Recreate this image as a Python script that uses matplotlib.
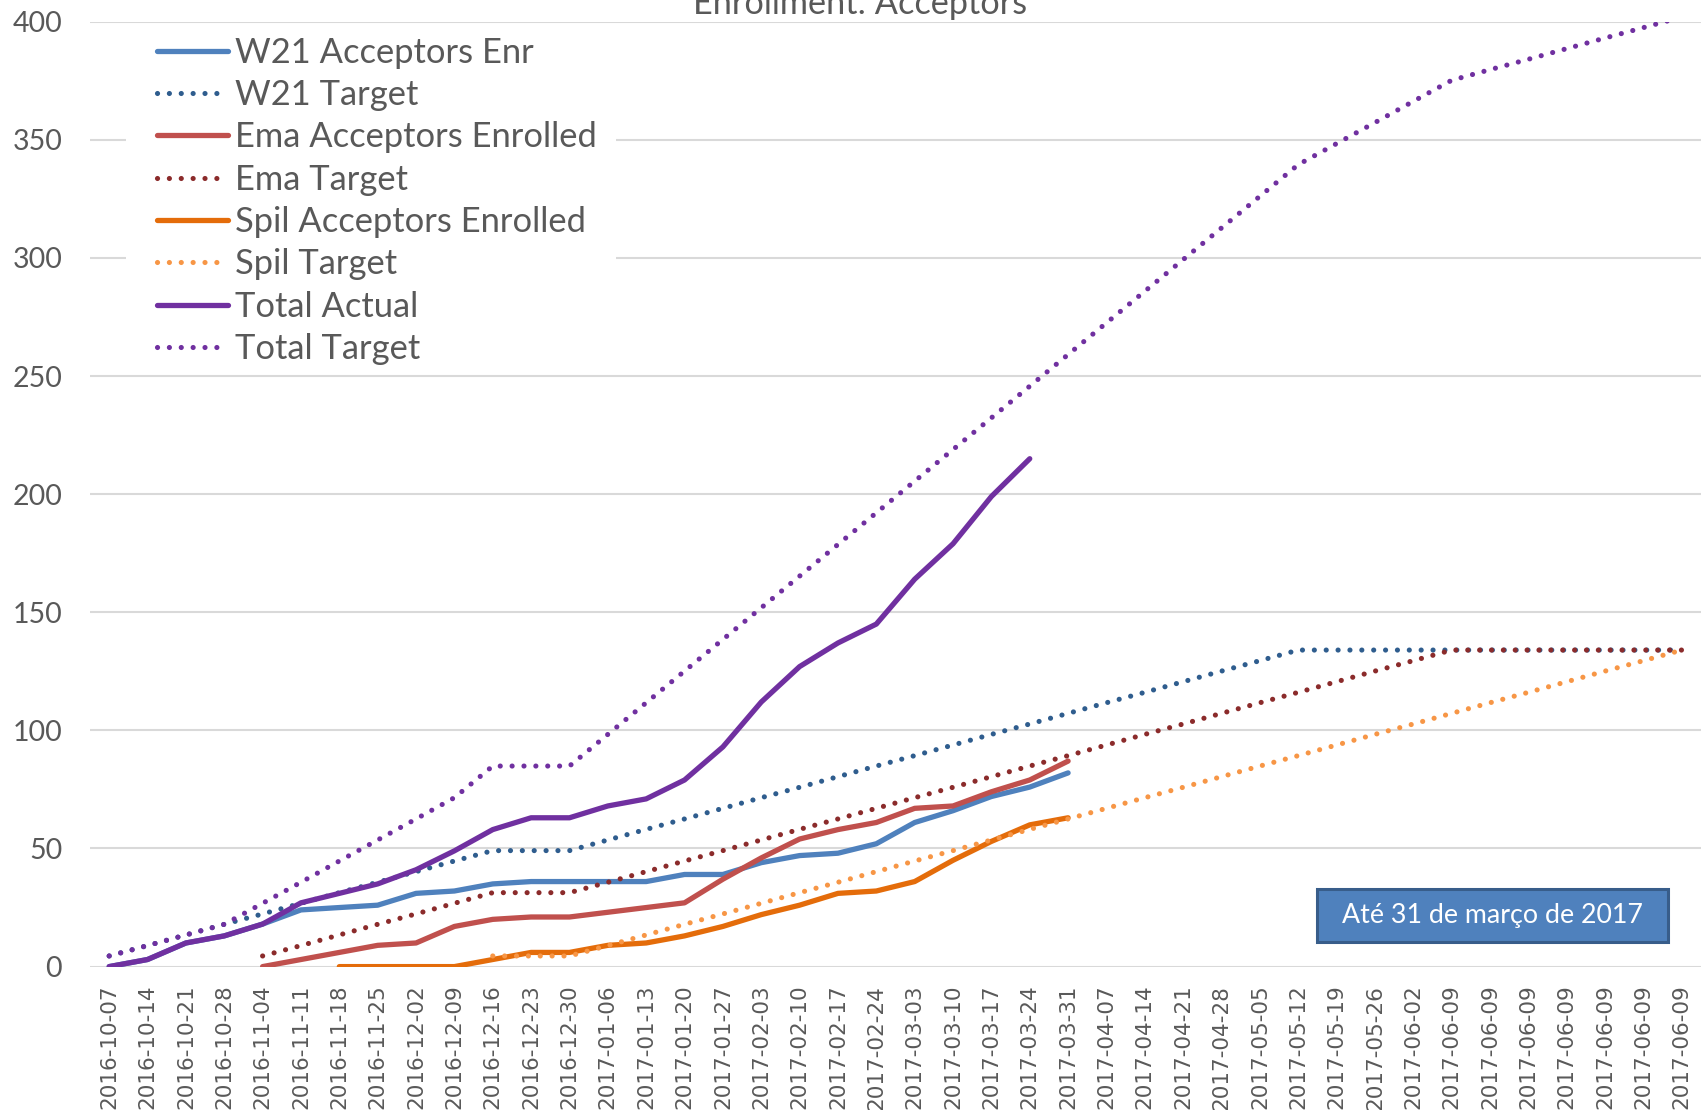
import numpy as np
import matplotlib
matplotlib.use("Agg")
import matplotlib.pyplot as plt
from matplotlib.patches import Rectangle

plt.rcParams['font.family'] = ['Lato', 'DejaVu Sans']

weeks = ["2016-10-07", "2016-10-14", "2016-10-21", "2016-10-28", "2016-11-04", "2016-11-11",
         "2016-11-18", "2016-11-25", "2016-12-02", "2016-12-09", "2016-12-16", "2016-12-23",
         "2016-12-30", "2017-01-06", "2017-01-13", "2017-01-20", "2017-01-27", "2017-02-03",
         "2017-02-10", "2017-02-17", "2017-02-24", "2017-03-03", "2017-03-10", "2017-03-17",
         "2017-03-24", "2017-03-31", "2017-04-07", "2017-04-14", "2017-04-21", "2017-04-28",
         "2017-05-05", "2017-05-12", "2017-05-19", "2017-05-26", "2017-06-02", "2017-06-09",
         "2017-06-09", "2017-06-09", "2017-06-09", "2017-06-09", "2017-06-09", "2017-06-09"]

# actual enrolment (each list starts at the week given in *_start)
w21_start = 0
w21_enr = [0, 3, 10, 13, 18, 24, 25, 26, 31, 32, 35, 36, 36, 36, 36, 39, 39, 44, 47, 48,
           52, 61, 66, 72, 76, 82]
ema_start = 4
ema_enr = [0, 3, 6, 9, 10, 17, 20, 21, 21, 23, 25, 27, 37, 46, 54, 58, 61, 67, 68, 74, 79, 87]
spil_start = 6
spil_enr = [0, 0, 0, 0, 3, 6, 6, 9, 10, 13, 17, 22, 26, 31, 32, 36, 45, 53, 60, 63]
total_start = 0
total_act = [0, 3, 10, 13, 18, 27, 31, 35, 41, 49, 58, 63, 63, 68, 71, 79, 93, 112, 127, 137,
             145, 164, 179, 199, 215]

# targets
w21_tgt_start = 0
w21_tgt = [4.5, 8.9, 13.4, 17.9, 22.3, 26.8, 31.3, 35.7, 40.2, 44.7, 49.1, 49.1, 49.1, 53.6,
           58.1, 62.5, 67.0, 71.5, 75.9, 80.4, 84.9, 89.3, 93.8, 98.3, 102.7, 107.2, 111.7,
           116.1, 120.6, 125.1, 129.5, 134.0, 134, 134, 134, 134, 134, 134, 134, 134, 134, 134]
ema_tgt_start = 4
ema_tgt = [4.5, 8.9, 13.4, 17.9, 22.3, 26.8, 31.3, 31.3, 31.3, 35.7, 40.2, 44.7, 49.1, 53.6,
           58.1, 62.5, 67.0, 71.5, 75.9, 80.4, 84.9, 89.3, 93.8, 98.3, 102.7, 107.2, 111.7,
           116.1, 120.6, 125.1, 129.5, 134.0, 134, 134, 134, 134, 134, 134]
spil_tgt_start = 10
spil_tgt = [4.5, 4.5, 4.5, 8.9, 13.4, 17.9, 22.3, 26.8, 31.3, 35.7, 40.2, 44.7, 49.1, 53.6,
            58.1, 62.5, 67.0, 71.5, 75.9, 80.4, 84.9, 89.3, 93.8, 98.3, 102.7, 107.2, 111.7,
            116.1, 120.6, 125.1, 129.5, 134.0]
total_tgt_start = 0
total_tgt = [4.5, 8.9, 13.4, 17.9, 26.8, 35.7, 44.7, 53.6, 62.5, 71.5, 84.9, 84.9, 84.9, 98.3,
             111.7, 125.1, 138.5, 151.9, 165.3, 178.7, 192.1, 205.5, 218.9, 232.3, 245.7,
             259.1, 272.5, 285.9, 299.3, 312.7, 326.1, 339.5, 348.4, 357.3, 366.3, 375.2,
             379.7, 384.1, 388.6, 393.1, 397.5, 402.0]


def pad(start, vals):
    arr = np.full(len(weeks), np.nan)
    arr[start:start + len(vals)] = vals
    return arr


series = [
    ("W21 Acceptors Enr", pad(w21_start, w21_enr), "#4F81BD", "solid"),
    ("W21 Target", pad(w21_tgt_start, w21_tgt), "#2F5D8E", "dot"),
    ("Ema Acceptors Enrolled", pad(ema_start, ema_enr), "#C0504D", "solid"),
    ("Ema Target", pad(ema_tgt_start, ema_tgt), "#8B2B2B", "dot"),
    ("Spil Acceptors Enrolled", pad(spil_start, spil_enr), "#E46C0A", "solid"),
    ("Spil Target", pad(spil_tgt_start, spil_tgt), "#F79646", "dot"),
    ("Total Actual", pad(total_start, total_act), "#7030A0", "solid"),
    ("Total Target", pad(total_tgt_start, total_tgt), "#7030A0", "dot"),
]

fig = plt.figure(figsize=(17.01, 11.10), dpi=100)
ax = fig.add_axes([90 / 1701, 143.4 / 1110, 1611 / 1701, 944.9 / 1110])

x = np.arange(len(weeks))
for name, vals, color, style in series:
    if style == "solid":
        ax.plot(x, vals, color=color, lw=3.8, label=name, solid_capstyle="round",
                solid_joinstyle="round", zorder=3)
    else:
        ax.plot(x, vals, color=color, lw=3.7, label=name, linestyle=(0, (0.01, 2.3)),
                dash_capstyle="round", zorder=3)

ax.set_xlim(-0.5, len(weeks) - 0.5)
ax.set_ylim(0, 400)
ax.set_yticks(range(0, 401, 50))
ax.set_xticks(x)
ax.set_xticklabels(weeks, rotation=90, fontfamily="DejaVu Sans", fontsize=15.5,
                   color="#595959", va="top")
ax.tick_params(axis="x", length=0, pad=13)
ax.tick_params(axis="y", length=0, pad=20, labelsize=20.5, labelcolor="#595959")
for s in ax.spines.values():
    s.set_visible(False)
ax.set_axisbelow(True)
ax.yaxis.grid(True, color="#D9D9D9", linewidth=1.5)

# white legend background covering gridlines
ax.add_patch(Rectangle((0.0223, 0.631), 0.304, 0.362, transform=ax.transAxes,
                       facecolor="white", edgecolor="none", zorder=1))
leg = ax.legend(loc="upper left", bbox_to_anchor=(0.0416, 0.984), frameon=False,
                fontsize=24.8, handlelength=2.06, handletextpad=0.2, labelspacing=0.3,
                borderaxespad=0, borderpad=0)
for t in leg.get_texts():
    t.set_color("#595959")

# note box
ax.add_patch(Rectangle((0.7617, 0.026), 0.2179, 0.0561, transform=ax.transAxes,
                       facecolor="#4F81BD", edgecolor="#385D8A", lw=2.2, zorder=4))
ax.text(0.7617 + 0.2179 / 2, 0.026 + 0.0561 / 2, "Até 31 de março de 2017",
        transform=ax.transAxes, ha="center", va="center", color="white", fontsize=19.3,
        zorder=5)

fig.text(860 / 1701, 1 - 14 / 1110, "Enrollment: Acceptors", ha="center", va="baseline",
         fontsize=24.7, color="#595959")

fig.savefig("out.png", dpi=100, facecolor="white")
